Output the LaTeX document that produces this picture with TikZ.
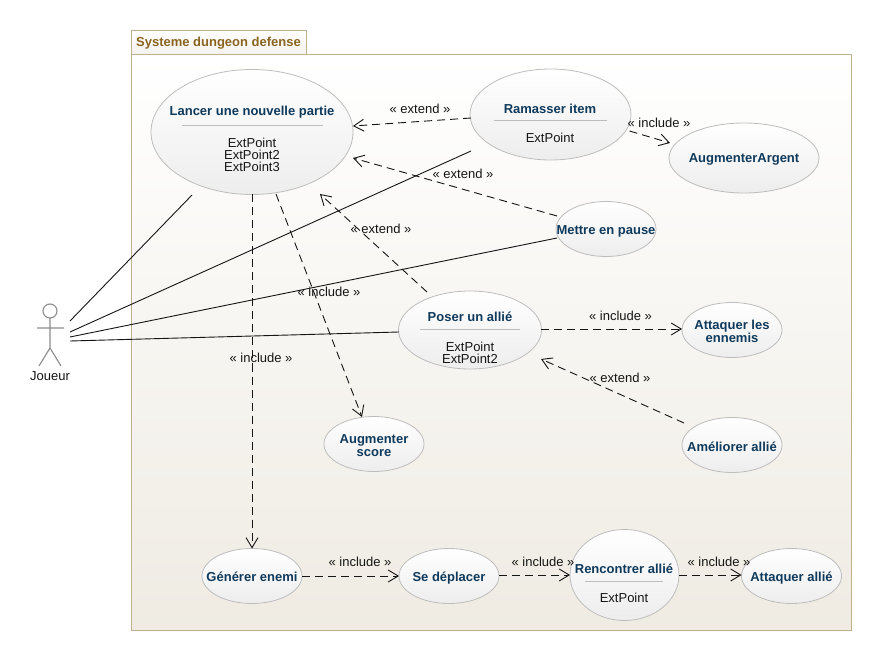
\documentclass[tikz,border=0pt]{standalone}
\usepackage{fontspec}
\setmainfont{Liberation Sans}
\usetikzlibrary{shapes.geometric,arrows.meta}
\definecolor{pkgborder}{HTML}{BFB08F}
\definecolor{pkgtext}{HTML}{8A6420}
\definecolor{ucborder}{HTML}{BDBDBD}
\definecolor{uctext}{HTML}{0F3A5C}
\definecolor{txt}{HTML}{151515}
\definecolor{actorc}{HTML}{8C8C8C}
\tikzset{
 x=1pt,y=-1pt,
 uc/.style={ellipse,draw=ucborder,line width=0.8pt,top color=white,bottom color=black!7,inner sep=0pt,outer sep=0pt},
 uctitle/.style={text=uctext,font=\fontsize{13}{13}\selectfont\bfseries,inner sep=0pt,align=center},
 ext/.style={text=txt,font=\fontsize{13}{13}\selectfont,inner sep=0pt,align=center},
 lbl/.style={text=txt,font=\fontsize{13}{13}\selectfont,inner sep=0pt},
 sep/.style={draw=ucborder,line width=0.7pt},
 rel/.style={draw=txt,line width=0.9pt,dash pattern=on 8pt off 5pt,-{Straight Barb[length=10pt,width=12pt,line width=0.9pt]}},
 assoc/.style={draw=txt,line width=0.9pt},
 stick/.style={draw=actorc,line width=1.1pt}
}
\begin{document}
\begin{tikzpicture}
\useasboundingbox (0,0) rectangle (881,660);
\fill[white] (0,0) rectangle (881,660);
% package
\node[rectangle,draw=pkgborder,line width=0.9pt,top color=white,bottom color=black!3!pkgborder!15,minimum width=175pt,minimum height=24.5pt,inner sep=0pt,anchor=north west] (tab) at (131,30) {};
\node[text=pkgtext,font=\fontsize{13}{13}\selectfont\bfseries,inner sep=0pt] (tabT) at (218.5,43.5) {Systeme dungeon defense};
\node[rectangle,draw=pkgborder,line width=0.9pt,top color=white,bottom color=pkgborder!25,minimum width=720pt,minimum height=575.5pt,inner sep=0pt,anchor=north west] (pkg) at (131,54.5) {};
% use cases
\node[uc,minimum width=202pt,minimum height=125pt] (lancer) at (252,132) {};
\node[uctitle] (lancerT) at (252,112.5) {Lancer une nouvelle partie};
\draw[sep] (182,125.5) -- (323,125.5);
\node[ext] (lancerE) at (252,154.5) {ExtPoint\\[-1pt]ExtPoint2\\[-1pt]ExtPoint3};
\node[uc,minimum width=161pt,minimum height=91pt] (ramasser) at (550.5,114.5) {};
\node[uctitle] (ramasserT) at (550,108.5) {Ramasser item};
\draw[sep] (494,120.5) -- (607,120.5);
\node[ext] (ramasserE) at (550,137.5) {ExtPoint};
\node[uc,minimum width=150pt,minimum height=70pt] (argent) at (744,158) {};
\node[uctitle] (argentT) at (744,159.5) {AugmenterArgent};
\node[uc,minimum width=100pt,minimum height=55pt] (pause) at (606,229) {};
\node[uctitle] (pauseT) at (606,231) {Mettre en pause};
\node[uc,minimum width=143pt,minimum height=78pt] (poser) at (470,330) {};
\node[uctitle] (poserT) at (470,316.5) {Poser un allié};
\draw[sep] (420,329.5) -- (520,329.5);
\node[ext] (poserE) at (470,352.5) {ExtPoint\\[-1pt]ExtPoint2};
\node[uc,minimum width=100pt,minimum height=55pt] (ennemis) at (732,330) {};
\node[uctitle] (ennemisT) at (732,331.5) {Attaquer les\\[-0.5pt]ennemis};
\node[uc,minimum width=100pt,minimum height=55pt] (ameliorer) at (732,445) {};
\node[uctitle] (ameliorerT) at (732,446.5) {Améliorer allié};
\node[uc,minimum width=100pt,minimum height=55pt] (score) at (374,444) {};
\node[uctitle] (scoreT) at (374,445.5) {Augmenter\\[-0.5pt]score};
\node[uc,minimum width=100pt,minimum height=55pt] (generer) at (252,576) {};
\node[uctitle] (genererT) at (252,577) {Générer enemi};
\node[uc,minimum width=100pt,minimum height=55pt] (deplacer) at (449,576) {};
\node[uctitle] (deplacerT) at (449,578) {Se déplacer};
\node[uc,minimum width=109pt,minimum height=91pt] (rencontrer) at (624.5,575) {};
\node[uctitle] (rencontrerT) at (624,568.5) {Rencontrer allié};
\draw[sep] (585,581.5) -- (663,581.5);
\node[ext] (rencontrerE) at (624,597.5) {ExtPoint};
\node[uc,minimum width=100pt,minimum height=55pt] (allie) at (791.5,576) {};
\node[uctitle] (allieT) at (791.5,578) {Attaquer allié};
% actor
\node[inner sep=0pt,minimum width=40pt,minimum height=60pt] (actor) at (50,335) {};
\draw[stick] (50,311) circle (7pt);
\draw[stick] (50,318) -- (50,348) (37,328) -- (64,328) (39,366) -- (50,348) -- (61,366);
\node[ext] (joueur) at (50,376) {Joueur};
% associations
\draw[assoc] ([shift={(20,-14)}]actor.center) -- ([shift={(-60,63)}]lancer.center);
\draw[assoc] ([shift={(20,-3)}]actor.center) -- ([shift={(-79.5,36.5)}]ramasser.center);
\draw[assoc] ([shift={(20,2)}]actor.center) -- ([shift={(-49,9)}]pause.center);
\draw[assoc] ([shift={(20,6)}]actor.center) -- ([shift={(-71,2)}]poser.center);
% relations
\draw[rel] ([shift={(-79.5,3.5)}]ramasser.center) -- ([shift={(101,-6)}]lancer.center);
\draw[rel] ([shift={(79,16.5)}]ramasser.center) -- ([shift={(-74,-15)}]argent.center);
\draw[rel] ([shift={(-49,-13)}]pause.center) -- ([shift={(101,26)}]lancer.center);
\draw[rel] ([shift={(-43,-38)}]poser.center) -- ([shift={(68,62)}]lancer.center);
\draw[rel] ([shift={(71,-1)}]poser.center) -- ([shift={(-50,-1)}]ennemis.center);
\draw[rel] ([shift={(-48,-22)}]ameliorer.center) -- ([shift={(71,29)}]poser.center);
\draw[rel] ([shift={(24,62)}]lancer.center) -- ([shift={(-12,-27)}]score.center);
\draw[rel] (lancer.south) -- (generer.north);
\draw[rel] (generer.east) -- (deplacer.west);
\draw[rel] ([shift={(50,-1)}]deplacer.center) -- (rencontrer.west);
\draw[rel] (rencontrer.east) -- ([shift={(-50,-1)}]allie.center);
% labels
\node[lbl] (l1) at (420,109) {« extend »};
\node[lbl] (l2) at (659,123) {« include »};
\node[lbl] (l3) at (463,174) {« extend »};
\node[lbl] (l4) at (381,229) {« extend »};
\node[lbl] (l5) at (329,292) {« include »};
\node[lbl] (l6) at (261,358) {« include »};
\node[lbl] (l7) at (620.5,316) {« include »};
\node[lbl] (l8) at (620,378) {« extend »};
\node[lbl] (l9) at (360,562) {« include »};
\node[lbl] (l10) at (543,562) {« include »};
\node[lbl] (l11) at (719,562) {« include »};
\end{tikzpicture}
\end{document}
